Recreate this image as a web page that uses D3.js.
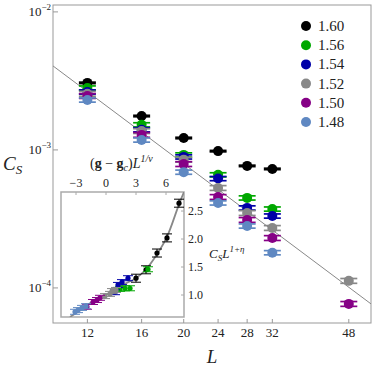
<!DOCTYPE html>
<html>
<head>
<meta charset="utf-8">
<script src="https://cdn.jsdelivr.net/npm/d3@7"></script>
<style>
  body { margin: 0; background: #fff; }
  text { font-family: "Liberation Serif", "DejaVu Serif", serif; fill: #222; }
</style>
</head>
<body>
<svg id="chart" width="374" height="374"></svg>
<script>
// system sizes and couplings
const sizes = [12, 16, 20, 24, 28, 32, 48];
const couplings = ["1.60", "1.56", "1.54", "1.52", "1.50", "1.48"];
const colors = ["#000000", "#00a800", "#0000a8", "#888888", "#860086", "#5f88c2"];

// C_S per coupling, one value per size (null = not measured)
const cs160 = [3.06e-3, 1.76e-3, 1.22e-3, 0.98e-3, 0.766e-3, 0.728e-3, null];
const cs156 = [2.81e-3, 1.52e-3, 0.92e-3, 0.66e-3, 0.449e-3, 0.373e-3, null];
const cs154 = [2.63e-3, 1.40e-3, 0.89e-3, 0.62e-3, 0.380e-3, 0.332e-3, null];
const cs152 = [2.55e-3, 1.37e-3, 0.85e-3, 0.53e-3, 0.349e-3, 0.272e-3, 1.125e-4];
const cs150 = [2.46e-3, 1.285e-3, 0.79e-3, 0.456e-3, 0.311e-3, 0.230e-3, 0.766e-4];
const cs148 = [2.30e-3, 1.18e-3, 0.69e-3, 0.413e-3, 0.281e-3, 0.180e-3, null];
const relErr = [0.012, 0.035, 0.035, 0.04, 0.04, 0.035];

// power-law fit line endpoints [L, C_S]
const fitLine = [[10, 4.06e-3], [54, 7.66e-5]];

// inset: scaling collapse, [x = (g-gc)L^(1/nu), y = C_S L^(1+eta)]
const col160 = [[3.0, 1.30], [4.0, 1.45], [5.1, 1.75], [6.1, 2.02], [7.3, 2.64]];
const col156 = [[1.4, 1.11], [1.9, 1.12], [2.4, 1.12], [4.2, 1.46]];
const col154 = [[0.9, 1.05], [1.2, 1.18], [1.6, 1.23], [2.2, 1.30]];
const col152 = [[-0.1, 0.98], [0.4, 1.02], [0.6, 1.07], [1.0, 1.09]];
const col150 = [[-1.9, 0.79], [-1.3, 0.875], [-0.9, 0.91], [-0.6, 0.95]];
const col148 = [[-3.1, 0.70], [-2.8, 0.73], [-2.4, 0.77], [-2.0, 0.80]];
const collapseCurve = [[-3.6, 0.607], [-2.4, 0.75], [-1.1, 0.91], [0.4, 1.04], [1.9, 1.20],
  [3.0, 1.30], [4.0, 1.46], [5.1, 1.73], [6.1, 2.04], [7.3, 2.62], [7.8, 2.84]];
const insetXTicks = [-3, 0, 3, 6];
const insetYTicks = [1.0, 1.5, 2.0, 2.5];

const series = [cs160, cs156, cs154, cs152, cs150, cs148];
const collapse = [col160, col156, col154, col152, col150, col148];

const svg = d3.select("#chart");
const mL = 53, mR = 371, mT = 5, mB = 323;

const x = d3.scaleLog().domain([10, 54]).range([mL, mR]);
const y = d3.scaleLog().domain([5.57e-5, 1.122e-2]).range([mB, mT]);

svg.append("clipPath").attr("id", "clip")
  .append("rect").attr("x", mL).attr("y", mT)
  .attr("width", mR - mL).attr("height", mB - mT);

// frame
svg.append("rect")
  .attr("x", mL).attr("y", mT)
  .attr("width", mR - mL).attr("height", mB - mT)
  .attr("fill", "none").attr("stroke", "#999").attr("stroke-width", 1);

// ticks
[1e-2, 1e-3, 1e-4].forEach((v, i) => {
  svg.append("line")
    .attr("x1", mL).attr("x2", mL + 5)
    .attr("y1", y(v)).attr("y2", y(v))
    .attr("stroke", "#999");
  const t = svg.append("text")
    .attr("x", mL - 2).attr("y", y(v) + 4)
    .attr("text-anchor", "end").attr("font-size", 13);
  t.append("tspan").text("10");
  t.append("tspan").attr("dy", -6).attr("font-size", 9).text("−" + (2 + i));
});
sizes.forEach(L => {
  svg.append("line")
    .attr("x1", x(L)).attr("x2", x(L))
    .attr("y1", mB).attr("y2", mB - 4)
    .attr("stroke", "#999");
  svg.append("text")
    .attr("x", x(L)).attr("y", mB + 14)
    .attr("text-anchor", "middle").attr("font-size", 13)
    .text(L);
});

// axis titles
const yt = svg.append("text").attr("x", 3).attr("y", 170)
  .attr("font-size", 19).attr("font-style", "italic");
yt.append("tspan").text("C");
yt.append("tspan").attr("dy", 4).attr("font-size", 13).text("S");
svg.append("text").attr("x", 212).attr("y", 363)
  .attr("text-anchor", "middle").attr("font-size", 19).attr("font-style", "italic")
  .text("L");

// fit line
svg.append("path")
  .datum(fitLine)
  .attr("clip-path", "url(#clip)")
  .attr("fill", "none").attr("stroke", "#888").attr("stroke-width", 1)
  .attr("d", d3.line().x(d => x(d[0])).y(d => y(d[1])));

// data with error bars
series.forEach((vals, si) => {
  const g = svg.append("g").attr("stroke", colors[si]).attr("fill", colors[si]);
  vals.forEach((c, i) => {
    if (c == null) return;
    const cx = x(sizes[i]);
    const yHi = y(c * (1 + relErr[si])), yLo = y(c * (1 - relErr[si]));
    g.append("line").attr("x1", cx).attr("x2", cx).attr("y1", yHi).attr("y2", yLo)
      .attr("stroke-width", 1.5);
    [yHi, yLo].forEach(yy => {
      g.append("line").attr("x1", cx - 8.5).attr("x2", cx + 8.5).attr("y1", yy).attr("y2", yy)
        .attr("stroke-width", 1.7);
    });
    g.append("circle").attr("cx", cx).attr("cy", y(c)).attr("r", 5).attr("stroke", "none");
  });
});

// legend
couplings.forEach((c, i) => {
  const ly = 26 + i * 19.2;
  svg.append("circle").attr("cx", 306).attr("cy", ly).attr("r", 5).attr("fill", colors[i]);
  svg.append("text").attr("x", 318).attr("y", ly + 5).attr("font-size", 15).text(c);
});

// inset
const iL = 61, iR = 184, iT = 192, iB = 317;
const ix = d3.scaleLinear().domain([-4.5, 7.8]).range([iL, iR]);
const iy = d3.scaleLinear().domain([0.607, 2.84]).range([iB, iT]);

svg.append("clipPath").attr("id", "iclip")
  .append("rect").attr("x", iL).attr("y", iT).attr("width", iR - iL).attr("height", iB - iT);

svg.append("rect")
  .attr("x", iL).attr("y", iT).attr("width", iR - iL).attr("height", iB - iT)
  .attr("fill", "#fff").attr("stroke", "#aaa").attr("stroke-width", 1.5);

insetXTicks.forEach(v => {
  svg.append("line").attr("x1", ix(v)).attr("x2", ix(v)).attr("y1", iT).attr("y2", iT + 3)
    .attr("stroke", "#aaa");
  svg.append("text").attr("x", ix(v)).attr("y", iT - 5)
    .attr("text-anchor", "middle").attr("font-size", 12)
    .text(v < 0 ? "−" + Math.abs(v) : v);
});
insetYTicks.forEach(v => {
  svg.append("line").attr("x1", iR).attr("x2", iR - 3).attr("y1", iy(v)).attr("y2", iy(v))
    .attr("stroke", "#aaa");
  svg.append("text").attr("x", iR + 4).attr("y", iy(v) + 4)
    .attr("font-size", 12).text(v.toFixed(1));
});

const xl = svg.append("text").attr("x", 90).attr("y", 168).attr("font-size", 14);
xl.append("tspan").text("(");
xl.append("tspan").attr("font-weight", "bold").text("g");
xl.append("tspan").text(" − ");
xl.append("tspan").attr("font-weight", "bold").text("g");
xl.append("tspan").attr("dy", 3).attr("font-size", 10).attr("font-style", "italic").text("c");
xl.append("tspan").attr("dy", -3).text(")");
xl.append("tspan").attr("font-style", "italic").text("L");
xl.append("tspan").attr("dy", -6).attr("font-size", 10).attr("font-style", "italic").text("1/ν");

const il = svg.append("text").attr("x", 209).attr("y", 258).attr("font-size", 13)
  .attr("font-style", "italic");
il.append("tspan").text("C");
il.append("tspan").attr("dy", 3).attr("font-size", 9).text("S");
il.append("tspan").attr("dy", -3).text("L");
il.append("tspan").attr("dy", -6).attr("font-size", 9).text("1+η");

const ig = svg.append("g").attr("clip-path", "url(#iclip)");
ig.append("path")
  .datum(collapseCurve)
  .attr("fill", "none").attr("stroke", "#888").attr("stroke-width", 1.8)
  .attr("d", d3.line().x(d => ix(d[0])).y(d => iy(d[1])).curve(d3.curveCatmullRom));

collapse.forEach((pts, si) => {
  const g = ig.append("g").attr("stroke", colors[si]).attr("fill", colors[si]);
  pts.forEach(p => {
    const px = ix(p[0]), py = iy(p[1]);
    const e = si === 0 ? 4 : 2.5;
    g.append("line").attr("x1", px).attr("x2", px).attr("y1", py - e).attr("y2", py + e);
    [py - e, py + e].forEach(yy => {
      g.append("line").attr("x1", px - 5).attr("x2", px + 5).attr("y1", yy).attr("y2", yy)
        .attr("stroke-width", 1);
    });
    g.append("circle").attr("cx", px).attr("cy", py).attr("r", 2.6).attr("stroke", "none");
  });
});
</script>
</body>
</html>
